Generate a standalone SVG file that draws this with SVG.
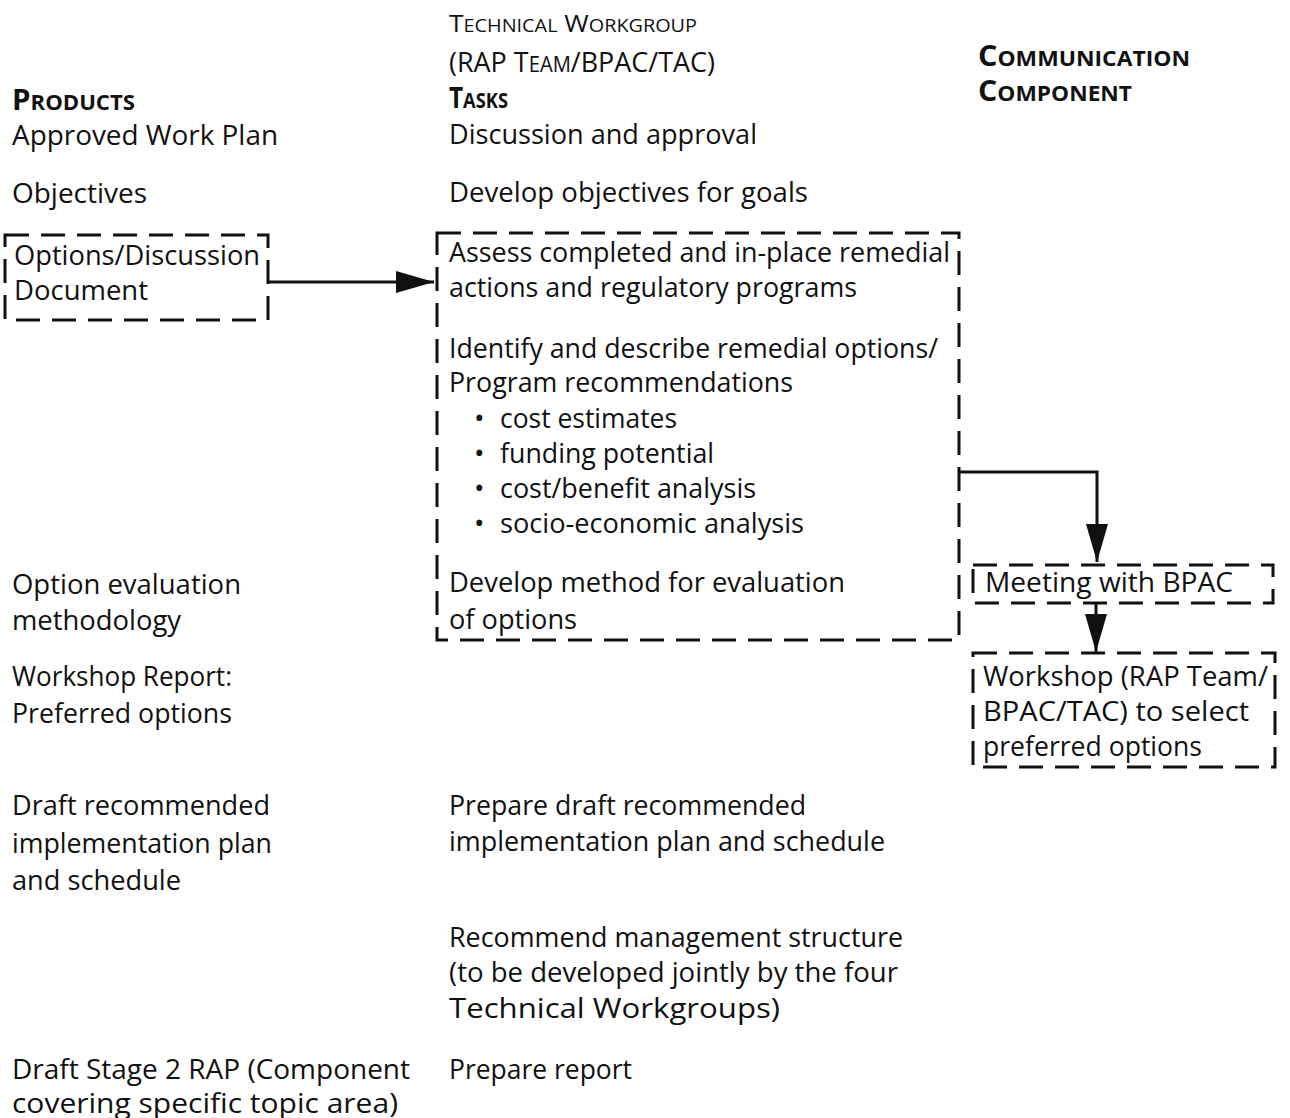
<svg xmlns="http://www.w3.org/2000/svg" width="1290" height="1118" viewBox="0 0 1290 1118">
<defs>
<style>
text{font-family:"Open Sans","Liberation Sans",sans-serif;font-size:28px;fill:#111;}
.hd{font-weight:bold;}
.sc{font-size:21px;}
.box{fill:none;stroke:#111;stroke-width:3;stroke-dasharray:24 12;}
.conn{fill:none;stroke:#111;stroke-width:3;}
</style>
<marker id="ah" markerUnits="userSpaceOnUse" markerWidth="38" markerHeight="22" refX="38" refY="11" orient="auto">
<path d="M0,0 L38,11 L0,22 Z" fill="#111"/>
</marker>
</defs>
<rect width="1290" height="1118" fill="#fff"/>

<g id="header-products">
<text class="hd" x="12" y="110" textLength="123" lengthAdjust="spacingAndGlyphs">P<tspan class="sc">RODUCTS</tspan></text>
</g>
<g id="header-tasks">
<text x="449" y="32" style="font-size:24px" textLength="248" lengthAdjust="spacingAndGlyphs">T<tspan style="font-size:18px">ECHNICAL</tspan> W<tspan style="font-size:18px">ORKGROUP</tspan></text>
<text x="449" y="72" textLength="266" lengthAdjust="spacingAndGlyphs">(RAP T<tspan class="sc">EAM</tspan>/BPAC/TAC)</text>
<text class="hd" x="449" y="108" textLength="59" lengthAdjust="spacingAndGlyphs">T<tspan class="sc">ASKS</tspan></text>
</g>
<g id="header-communication">
<text class="hd" x="978" y="66" textLength="212" lengthAdjust="spacingAndGlyphs">C<tspan class="sc">OMMUNICATION</tspan></text>
<text class="hd" x="978" y="101" textLength="154" lengthAdjust="spacingAndGlyphs">C<tspan class="sc">OMPONENT</tspan></text>
</g>

<g id="p-approved"><text x="12" y="145" textLength="266" lengthAdjust="spacingAndGlyphs">Approved Work Plan</text></g>
<g id="t-discussion"><text x="449" y="144" textLength="308" lengthAdjust="spacingAndGlyphs">Discussion and approval</text></g>
<g id="p-objectives"><text x="12" y="203" textLength="135" lengthAdjust="spacingAndGlyphs">Objectives</text></g>
<g id="t-objectives"><text x="449" y="202" textLength="359" lengthAdjust="spacingAndGlyphs">Develop objectives for goals</text></g>

<g id="p-options">
<rect class="box" x="5" y="235" width="263" height="85"/>
<text x="14" y="265" textLength="246" lengthAdjust="spacingAndGlyphs">Options/Discussion</text>
<text x="14" y="300" textLength="134" lengthAdjust="spacingAndGlyphs">Document</text>
</g>

<g id="t-assess">
<rect class="box" x="437" y="233" width="522" height="407"/>
<text x="449" y="262" textLength="501" lengthAdjust="spacingAndGlyphs">Assess completed and in-place remedial</text>
<text x="449" y="297" textLength="408" lengthAdjust="spacingAndGlyphs">actions and regulatory programs</text>
<text x="449" y="358" textLength="489" lengthAdjust="spacingAndGlyphs">Identify and describe remedial options/</text>
<text x="449" y="392" textLength="344" lengthAdjust="spacingAndGlyphs">Program recommendations</text>
<text x="474" y="428">•</text><text x="500" y="428" textLength="177" lengthAdjust="spacingAndGlyphs">cost estimates</text>
<text x="474" y="463">•</text><text x="500" y="463" textLength="214" lengthAdjust="spacingAndGlyphs">funding potential</text>
<text x="474" y="498">•</text><text x="500" y="498" textLength="256" lengthAdjust="spacingAndGlyphs">cost/benefit analysis</text>
<text x="474" y="533">•</text><text x="500" y="533" textLength="304" lengthAdjust="spacingAndGlyphs">socio-economic analysis</text>
<text x="449" y="592" textLength="396" lengthAdjust="spacingAndGlyphs">Develop method for evaluation</text>
<text x="449" y="629" textLength="128" lengthAdjust="spacingAndGlyphs">of options</text>
</g>

<g id="p-evaluation">
<text x="12" y="594" textLength="229" lengthAdjust="spacingAndGlyphs">Option evaluation</text>
<text x="12" y="630" textLength="169" lengthAdjust="spacingAndGlyphs">methodology</text>
</g>

<g id="c-meeting">
<rect class="box" x="973" y="565" width="300" height="38"/>
<text x="985" y="592" textLength="248" lengthAdjust="spacingAndGlyphs">Meeting with BPAC</text>
</g>

<g id="c-workshop">
<rect class="box" x="973" y="653" width="302" height="114"/>
<text x="983" y="686" textLength="285" lengthAdjust="spacingAndGlyphs">Workshop (RAP Team/</text>
<text x="983" y="721" textLength="266" lengthAdjust="spacingAndGlyphs">BPAC/TAC) to select</text>
<text x="983" y="756" textLength="219" lengthAdjust="spacingAndGlyphs">preferred options</text>
</g>

<g id="p-workshop-report">
<text x="12" y="686" textLength="220" lengthAdjust="spacingAndGlyphs">Workshop Report:</text>
<text x="12" y="723" textLength="220" lengthAdjust="spacingAndGlyphs">Preferred options</text>
</g>

<g id="p-draft-plan">
<text x="12" y="815" textLength="258" lengthAdjust="spacingAndGlyphs">Draft recommended</text>
<text x="12" y="853" textLength="260" lengthAdjust="spacingAndGlyphs">implementation plan</text>
<text x="12" y="890" textLength="169" lengthAdjust="spacingAndGlyphs">and schedule</text>
</g>
<g id="t-draft-plan">
<text x="449" y="815" textLength="357" lengthAdjust="spacingAndGlyphs">Prepare draft recommended</text>
<text x="449" y="851" textLength="436" lengthAdjust="spacingAndGlyphs">implementation plan and schedule</text>
</g>

<g id="t-management">
<text x="449" y="947" textLength="454" lengthAdjust="spacingAndGlyphs">Recommend management structure</text>
<text x="449" y="982" textLength="449" lengthAdjust="spacingAndGlyphs">(to be developed jointly by the four</text>
<text x="449" y="1018" textLength="331" lengthAdjust="spacingAndGlyphs">Technical Workgroups)</text>
</g>

<g id="p-draft-rap">
<text x="12" y="1079" textLength="398" lengthAdjust="spacingAndGlyphs">Draft Stage 2 RAP (Component</text>
<text x="12" y="1113" textLength="386" lengthAdjust="spacingAndGlyphs">covering specific topic area)</text>
</g>
<g id="t-report">
<text x="449" y="1079" textLength="183" lengthAdjust="spacingAndGlyphs">Prepare report</text>
</g>

<g id="connectors">
<path class="conn" d="M268,282 L434,282" marker-end="url(#ah)"/>
<path class="conn" d="M959,472 L1097,472 L1097,562" marker-end="url(#ah)"/>
<path class="conn" d="M1096,603 L1096,652" marker-end="url(#ah)"/>
</g>
</svg>
